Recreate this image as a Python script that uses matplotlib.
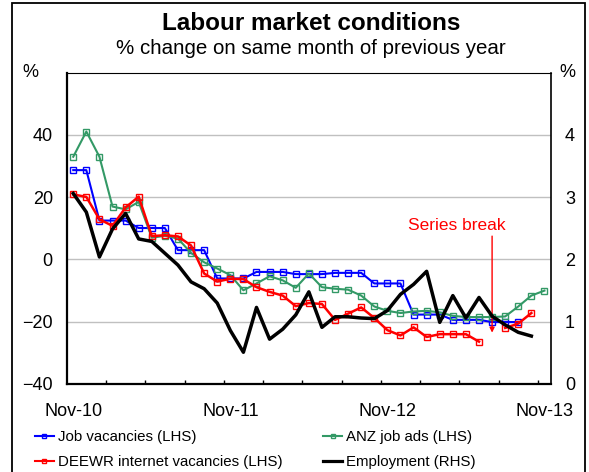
import matplotlib
matplotlib.use("Agg")
import matplotlib.pyplot as plt
from matplotlib.lines import Line2D
from matplotlib.patches import Rectangle
import numpy as np
import pandas as pd

plt.rcParams['font.family'] = ['Liberation Sans', 'DejaVu Sans']

# --- DATA (monthly, Nov-10 .. Nov-13) ---
months = pd.date_range('2010-11-01', '2013-11-01', freq='MS').strftime('%b-%y').tolist()
nan = np.nan

job_vacancies = [28.7, 28.7,
                 12.5, 12.5, 12.5,
                 10.1, 10.1, 10.1,
                 3.0, 3.0, 3.0,
                 -6.1, -6.1, -6.1,
                 -4.0, -4.0, -4.0,
                 -4.7, -4.7, -4.7,
                 -4.3, -4.3, -4.3,
                 -7.7, -7.7, -7.7,
                 -17.7, -17.7, -17.7,
                 -19.4, -19.4, -19.4,
                 -20.1, -20.1, -20.1,
                 nan, nan]

anz_job_ads = [33.0, 41.1, 33.0, 17.0, 16.1, 18.5, 7.0, 7.6, 6.7, 2.1,
               -0.9, -2.9, -5.0, -9.9, -7.7, -5.4, -6.7, -9.1, -4.5, -8.9,
               -9.4, -9.7, -11.6, -15.1, -16.5, -17.2, -16.7, -16.5, -17.0, -18.1,
               -18.5, -18.5, -18.5, -18.3, -15.1, -11.6, -10.0]

deewr_vacancies = [20.9, 20.1, 12.9, 10.8, 16.7, 20.2, 7.5, 7.8, 7.4, 4.5,
                   -4.5, -7.1, -6.2, -6.3, -8.9, -10.4, -11.6, -15.0, -14.0, -14.3,
                   -19.4, -17.4, -15.4, -18.8, -22.7, -24.4, -21.8, -24.9, -24.0, -24.0,
                   -24.0, -26.4, nan, -22.0, -20.6, -17.2, nan]

employment = [3.06, 2.76, 2.04, 2.49, 2.74, 2.33, 2.29, 2.10, 1.91, 1.64,
              1.53, 1.30, 0.86, 0.51, 1.23, 0.72, 0.88, 1.11, 1.48, 0.91,
              1.08, 1.08, 1.06, 1.05, 1.18, 1.44, 1.60, 1.81, 0.99, 1.42,
              1.06, 1.39, 1.09, 0.95, 0.83, 0.77, nan]

label_months = ['Nov-10', 'Nov-11', 'Nov-12', 'Nov-13']
break_month = 'Jul-13'

BLUE = '#0000ff'
RED = '#ff0000'
GREEN = '#339966'

x = np.arange(len(months))

fig = plt.figure(figsize=(5.89, 4.72), dpi=100)
W, H = 589.0, 472.0

# axes box in pixels: left 66.7, right 551, top 72.7, bottom 384
ax = fig.add_axes([66.7 / W, 1 - 384 / H, (551 - 66.7) / W, (384 - 72.7) / H])
ax2 = ax.twinx()

mk = dict(marker='s', markersize=4, markerfacecolor='none', markeredgewidth=1)
ax.plot(x, job_vacancies, color=BLUE, lw=1.5, markeredgecolor=BLUE, zorder=3, **mk)
ax.plot(x, anz_job_ads, color=GREEN, lw=1.5, markeredgecolor=GREEN, zorder=3, **mk)
ax.plot(x, deewr_vacancies, color=RED, lw=1.8, markeredgecolor=RED, zorder=4, **mk)
ax2.plot(x, employment, color='black', lw=2.5, zorder=5)

ax.set_xlim(-0.5, len(months) - 0.5)
ax.set_ylim(-40, 60)
ax2.set_ylim(0, 5)

ax.set_yticks([-40, -20, 0, 20, 40])
ax2.set_yticks([0, 1, 2, 3, 4])
ax.tick_params(axis='y', length=0, pad=10, labelsize=13)
ax2.tick_params(axis='y', length=0, pad=10, labelsize=13)
ax.yaxis.grid(True, color='#c0c0c0', lw=1)
ax.set_axisbelow(True)

ax.set_xticks([months.index(m) for m in label_months])
ax.set_xticklabels(label_months)
ax.set_xticks(np.arange(2.5, len(months) - 1, 3), minor=True)
ax.tick_params(axis='x', which='major', length=0, pad=14, labelsize=13)
ax.tick_params(axis='x', which='minor', direction='in', length=3, width=1, color='black')

for s in ['left', 'bottom']:
    ax.spines[s].set_linewidth(1.6)
ax.spines['top'].set_linewidth(0.8)
ax.spines['right'].set_visible(False)
for s in ['left', 'top', 'bottom']:
    ax2.spines[s].set_visible(False)
ax2.spines['right'].set_linewidth(1.2)

# series break marker
bi = months.index(break_month)
ax.annotate('', xy=(bi, -23.5), xytext=(bi, 7.5),
            arrowprops=dict(arrowstyle='-|>', color=RED, lw=1, mutation_scale=7,
                            shrinkA=0, shrinkB=0))
ax.text(bi - 2.7, 11, 'Series break', color=RED, ha='center', va='center', fontsize=12.5)

# titles and unit labels
fig.text(311 / W, 1 - 30 / H, 'Labour market conditions', ha='center', va='baseline',
         fontsize=17.5, fontweight='bold')
fig.text(311 / W, 1 - 54 / H, '% change on same month of previous year', ha='center',
         va='baseline', fontsize=14.8)
fig.text(30.5 / W, 1 - 72.5 / H, '%', ha='center', va='center', fontsize=13)
fig.text(567 / W, 1 - 72.5 / H, '%', ha='center', va='center', fontsize=13)

# legend
handles = [
    Line2D([], [], color=BLUE, lw=1.5, marker='s', markersize=3, markerfacecolor='none',
           markeredgecolor=BLUE),
    Line2D([], [], color=RED, lw=1.5, marker='s', markersize=3, markerfacecolor='none',
           markeredgecolor=RED),
    Line2D([], [], color=GREEN, lw=1.5, marker='s', markersize=3, markerfacecolor='none',
           markeredgecolor=GREEN),
    Line2D([], [], color='black', lw=2.3),
]
labels = ['Job vacancies (LHS)', 'DEEWR internet vacancies (LHS)',
          'ANZ job ads (LHS)', 'Employment (RHS)']
fig.legend(handles, labels, ncol=2, loc='upper left', bbox_to_anchor=(35 / W, 1 - 430 / H),
           frameon=False, fontsize=10.8, handlelength=1.25, handletextpad=0.25,
           columnspacing=2.75, labelspacing=0.75, borderpad=0, borderaxespad=0)

# outer border of the chart
fig.add_artist(Rectangle((12 / W, -0.05), (585 - 12) / W, 1.05 - 3 / H,
                         transform=fig.transFigure, fill=False, lw=1.3,
                         edgecolor='black', clip_on=False))

fig.savefig('out.png', dpi=100)
